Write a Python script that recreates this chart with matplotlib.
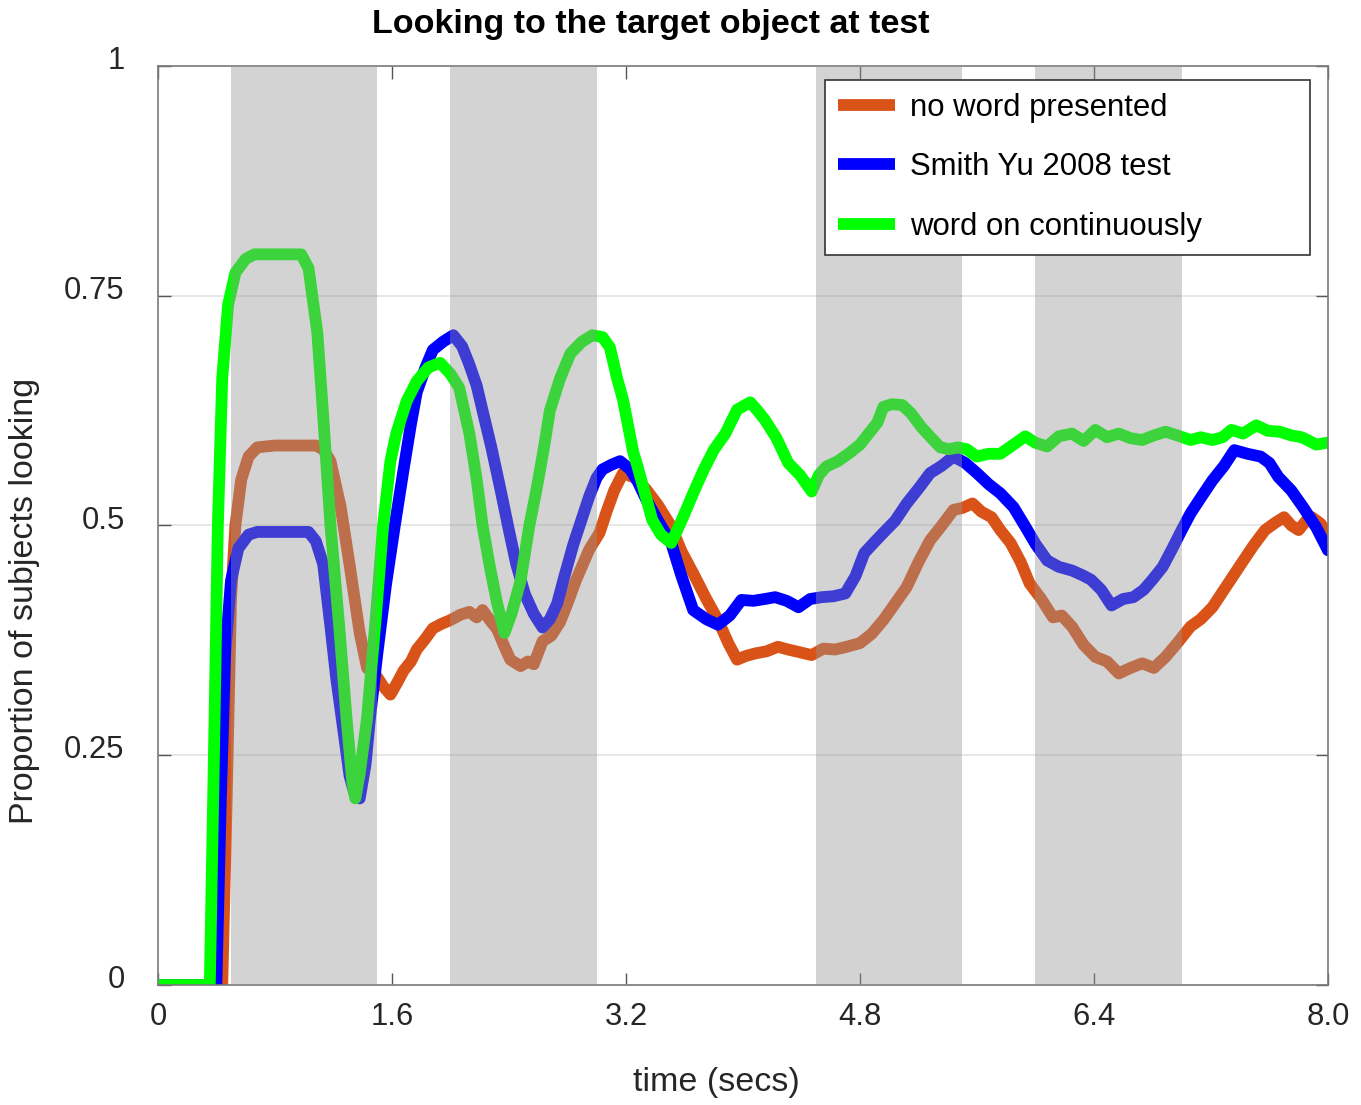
import numpy as np
import matplotlib
matplotlib.use('Agg')
from matplotlib import pyplot as plt
from matplotlib.transforms import ScaledTranslation

plt.rcParams['font.family'] = ['Liberation Sans', 'DejaVu Sans']

# ---- data ----
t_none = [0, 0.44, 0.47, 0.50, 0.53, 0.57, 0.62, 0.68, 0.8, 0.95, 1.08, 1.13, 1.18, 1.25, 1.31, 1.38,
          1.43, 1.50, 1.54, 1.59, 1.64, 1.68, 1.73, 1.77, 1.83, 1.88, 1.94, 2.0, 2.07, 2.13, 2.18, 2.22,
          2.27, 2.32, 2.37, 2.41, 2.48, 2.53, 2.57, 2.63, 2.69, 2.75, 2.80, 2.86, 2.95, 3.02, 3.07, 3.12,
          3.18, 3.26, 3.34, 3.42, 3.51, 3.58, 3.66, 3.75, 3.83, 3.90, 3.96, 4.02, 4.09, 4.16, 4.24, 4.31,
          4.39, 4.47, 4.55, 4.63, 4.71, 4.80, 4.88, 4.96, 5.04, 5.12, 5.20, 5.28, 5.36, 5.44, 5.50, 5.57,
          5.63, 5.70, 5.76, 5.83, 5.90, 5.96, 6.04, 6.12, 6.18, 6.25, 6.33, 6.41, 6.49, 6.57, 6.65, 6.73,
          6.81, 6.89, 6.97, 7.06, 7.13, 7.21, 7.31, 7.41, 7.49, 7.57, 7.64, 7.70, 7.75, 7.80, 7.85, 7.89,
          7.95, 8.0]
v_none = [0, 0, 0.2, 0.42, 0.50, 0.55, 0.575, 0.585, 0.587, 0.587, 0.587, 0.583, 0.570, 0.52, 0.458, 0.383,
          0.345, 0.335, 0.325, 0.316, 0.33, 0.342, 0.352, 0.365, 0.377, 0.388, 0.393, 0.397, 0.403, 0.406, 0.400, 0.408,
          0.397, 0.387, 0.368, 0.354, 0.347, 0.352, 0.349, 0.374, 0.380, 0.395, 0.415, 0.441, 0.474, 0.492, 0.516, 0.538,
          0.557, 0.552, 0.539, 0.522, 0.499, 0.472, 0.448, 0.420, 0.397, 0.372, 0.354, 0.358, 0.361, 0.363, 0.368, 0.365,
          0.362, 0.359, 0.366, 0.365, 0.368, 0.372, 0.382, 0.397, 0.415, 0.433, 0.460, 0.484, 0.500, 0.517, 0.519, 0.524,
          0.515, 0.509, 0.495, 0.481, 0.460, 0.437, 0.420, 0.400, 0.402, 0.390, 0.370, 0.357, 0.352, 0.339, 0.345, 0.350,
          0.345, 0.357, 0.372, 0.390, 0.398, 0.411, 0.435, 0.459, 0.478, 0.495, 0.503, 0.509, 0.500, 0.495, 0.505, 0.509,
          0.502, 0.490]

t_sy = [0, 0.40, 0.43, 0.46, 0.50, 0.55, 0.62, 0.68, 0.85, 1.03, 1.08, 1.13, 1.18, 1.22, 1.27, 1.31, 1.35,
        1.38, 1.42, 1.45, 1.50, 1.56, 1.62, 1.68, 1.73, 1.77, 1.83, 1.88, 1.95, 2.02, 2.08, 2.13, 2.18,
        2.22, 2.28, 2.34, 2.40, 2.45, 2.51, 2.57, 2.63, 2.68, 2.73, 2.78, 2.84, 2.90, 2.95, 3.00, 3.04,
        3.10, 3.16, 3.23, 3.28, 3.34, 3.42, 3.51, 3.58, 3.66, 3.75, 3.83, 3.91, 3.99, 4.07, 4.15, 4.22,
        4.30, 4.38, 4.46, 4.54, 4.62, 4.70, 4.77, 4.83, 4.90, 4.96, 5.04, 5.12, 5.20, 5.28, 5.36, 5.44,
        5.52, 5.60, 5.68, 5.76, 5.85, 5.93, 6.00, 6.08, 6.16, 6.25, 6.32, 6.38, 6.45, 6.52, 6.60, 6.67,
        6.74, 6.80, 6.87, 6.93, 7.00, 7.06, 7.13, 7.21, 7.29, 7.36, 7.45, 7.54, 7.60, 7.66, 7.75, 7.83,
        7.92, 8.0]
v_sy = [0, 0, 0.2, 0.36, 0.44, 0.475, 0.49, 0.493, 0.493, 0.493, 0.483, 0.458, 0.39, 0.333, 0.275, 0.228, 0.205,
        0.203, 0.24, 0.29, 0.36, 0.436, 0.50, 0.561, 0.61, 0.645, 0.672, 0.691, 0.700, 0.707, 0.695, 0.675, 0.652,
        0.625, 0.585, 0.541, 0.495, 0.458, 0.425, 0.404, 0.389, 0.398, 0.415, 0.445, 0.479, 0.508, 0.532, 0.552, 0.561,
        0.566, 0.570, 0.561, 0.548, 0.528, 0.505, 0.481, 0.445, 0.408, 0.398, 0.392, 0.402, 0.419, 0.418, 0.420, 0.422,
        0.418, 0.411, 0.420, 0.422, 0.423, 0.426, 0.445, 0.470, 0.482, 0.492, 0.505, 0.524, 0.540, 0.557, 0.565, 0.575,
        0.568, 0.557, 0.545, 0.535, 0.520, 0.499, 0.480, 0.462, 0.455, 0.451, 0.446, 0.441, 0.430, 0.413, 0.420, 0.422,
        0.430, 0.441, 0.455, 0.473, 0.495, 0.513, 0.530, 0.549, 0.565, 0.582, 0.578, 0.575, 0.568, 0.553, 0.538, 0.520,
        0.498, 0.473]

t_cont = [0, 0.355, 0.38, 0.41, 0.44, 0.48, 0.53, 0.60, 0.66, 0.80, 0.98, 1.03, 1.09, 1.13, 1.18, 1.24,
          1.29, 1.33, 1.35, 1.38, 1.43, 1.49, 1.54, 1.59, 1.63, 1.70, 1.77, 1.85, 1.93, 2.00, 2.06, 2.13,
          2.18, 2.22, 2.27, 2.32, 2.37, 2.42, 2.48, 2.54, 2.59, 2.64, 2.68, 2.75, 2.82, 2.90, 2.97, 3.04,
          3.09, 3.14, 3.18, 3.25, 3.28, 3.33, 3.38, 3.44, 3.51, 3.58, 3.66, 3.73, 3.80, 3.88, 3.96, 4.05,
          4.10, 4.15, 4.23, 4.31, 4.39, 4.47, 4.52, 4.57, 4.65, 4.73, 4.80, 4.86, 4.92, 4.96, 5.02, 5.09,
          5.15, 5.22, 5.29, 5.35, 5.41, 5.47, 5.53, 5.60, 5.68, 5.76, 5.85, 5.93, 6.00, 6.08, 6.16, 6.25,
          6.33, 6.41, 6.49, 6.57, 6.65, 6.73, 6.81, 6.89, 6.97, 7.06, 7.13, 7.21, 7.28, 7.34, 7.42, 7.51,
          7.59, 7.67, 7.75, 7.82, 7.86, 7.92, 7.99]
v_cont = [0, 0, 0.22, 0.50, 0.66, 0.74, 0.775, 0.79, 0.795, 0.795, 0.795, 0.78, 0.71, 0.62, 0.50, 0.39,
          0.29, 0.22, 0.203, 0.23, 0.29, 0.40, 0.50, 0.57, 0.60, 0.635, 0.657, 0.672, 0.677, 0.665, 0.65, 0.60,
          0.55, 0.50, 0.455, 0.415, 0.383, 0.405, 0.44, 0.50, 0.54, 0.585, 0.625, 0.660, 0.687, 0.700, 0.707, 0.705,
          0.694, 0.660, 0.637, 0.580, 0.564, 0.535, 0.506, 0.490, 0.481, 0.505, 0.535, 0.560, 0.582, 0.600, 0.626, 0.634,
          0.625, 0.615, 0.595, 0.568, 0.555, 0.537, 0.555, 0.564, 0.570, 0.579, 0.588, 0.600, 0.612, 0.629, 0.632, 0.631,
          0.622, 0.607, 0.595, 0.585, 0.583, 0.585, 0.583, 0.575, 0.578, 0.578, 0.588, 0.597, 0.590, 0.586, 0.597, 0.600,
          0.592, 0.604, 0.596, 0.600, 0.595, 0.593, 0.598, 0.602, 0.598, 0.593, 0.596, 0.593, 0.596, 0.604, 0.600, 0.609,
          0.603, 0.602, 0.598, 0.596, 0.593, 0.588, 0.590]

labels = ['no word presented', 'Smith Yu 2008 test', 'word on continuously']
colors = ['#D95319', '#0000FF', '#00FF00']

# shaded intervals (secs)
band_start = [0.5, 2.0, 4.5, 6.0]
band_end = [1.5, 3.0, 5.5, 7.0]

xticks = [0, 1.6, 3.2, 4.8, 6.4, 8.0]
xtick_labels = ['0', '1.6', '3.2', '4.8', '6.4', '8.0']
yticks = [0, 0.25, 0.5, 0.75, 1]
ytick_labels = ['0', '0.25', '0.5', '0.75', '1']

fig = plt.figure(figsize=(13.61, 11.05), dpi=100)
ax = fig.add_axes([0.116, 0.1086, 0.8597, 0.8317])

series = [(t_none, v_none), (t_sy, v_sy), (t_cont, v_cont)]
for (t, v), lab, c in zip(series, labels, colors):
    ax.plot(t, v, color=c, lw=8.5, label=lab, solid_capstyle='round', solid_joinstyle='round', zorder=2)

# grey bands go on top of the curves, semi transparent
for a, b in zip(band_start, band_end):
    ax.axvspan(a, b, color='#959595', alpha=0.41, lw=0, zorder=3)

ax.set_xlim(0, 8)
ax.set_ylim(0, 1)
ax.set_xticks(xticks)
ax.set_xticklabels(xtick_labels)
ax.set_yticks(yticks)
ax.set_yticklabels(ytick_labels)
ax.yaxis.grid(True, color='#e3e3e3', lw=1.2, zorder=1)
ax.set_axisbelow(True)
ax.tick_params(direction='in', length=9, width=1, color='#555555', top=True, right=True,
               labelsize=22.3, labelcolor='#262626')
ax.tick_params(axis='x', pad=12)
ax.tick_params(axis='y', pad=24)
for lbl in ax.get_yticklabels():
    lbl.set_transform(lbl.get_transform() + ScaledTranslation(0, 6 / 72, fig.dpi_scale_trans))
for s in ax.spines.values():
    s.set_color('#7a7a7a')
    s.set_linewidth(1.2)

# legend stretched across a fixed box, like the matlab one
leg = ax.legend(loc='upper left', bbox_to_anchor=(0.570, 0.788, 0.415, 0.197), mode='expand',
                borderaxespad=0, fontsize=22.4, fancybox=False, framealpha=1, edgecolor='#333333',
                handlelength=1.85, handletextpad=0.48, labelspacing=0.95, borderpad=0.42)
leg.get_frame().set_linewidth(1.2)
leg.set_zorder(5)
for h in leg.get_lines():
    h.set_solid_capstyle('butt')

fig.text(0.478, 0.978, 'Looking to the target object at test', ha='center', va='center',
         fontsize=24.5, fontweight='bold')
fig.text(0.526, 0.0208, 'time (secs)', ha='center', va='center', fontsize=24.5, color='#262626')
fig.text(0.018, 0.456, 'Proportion of subjects looking', ha='center', va='center', rotation=90,
         fontsize=24.5, color='#262626')

fig.savefig('out.png', dpi=100)
